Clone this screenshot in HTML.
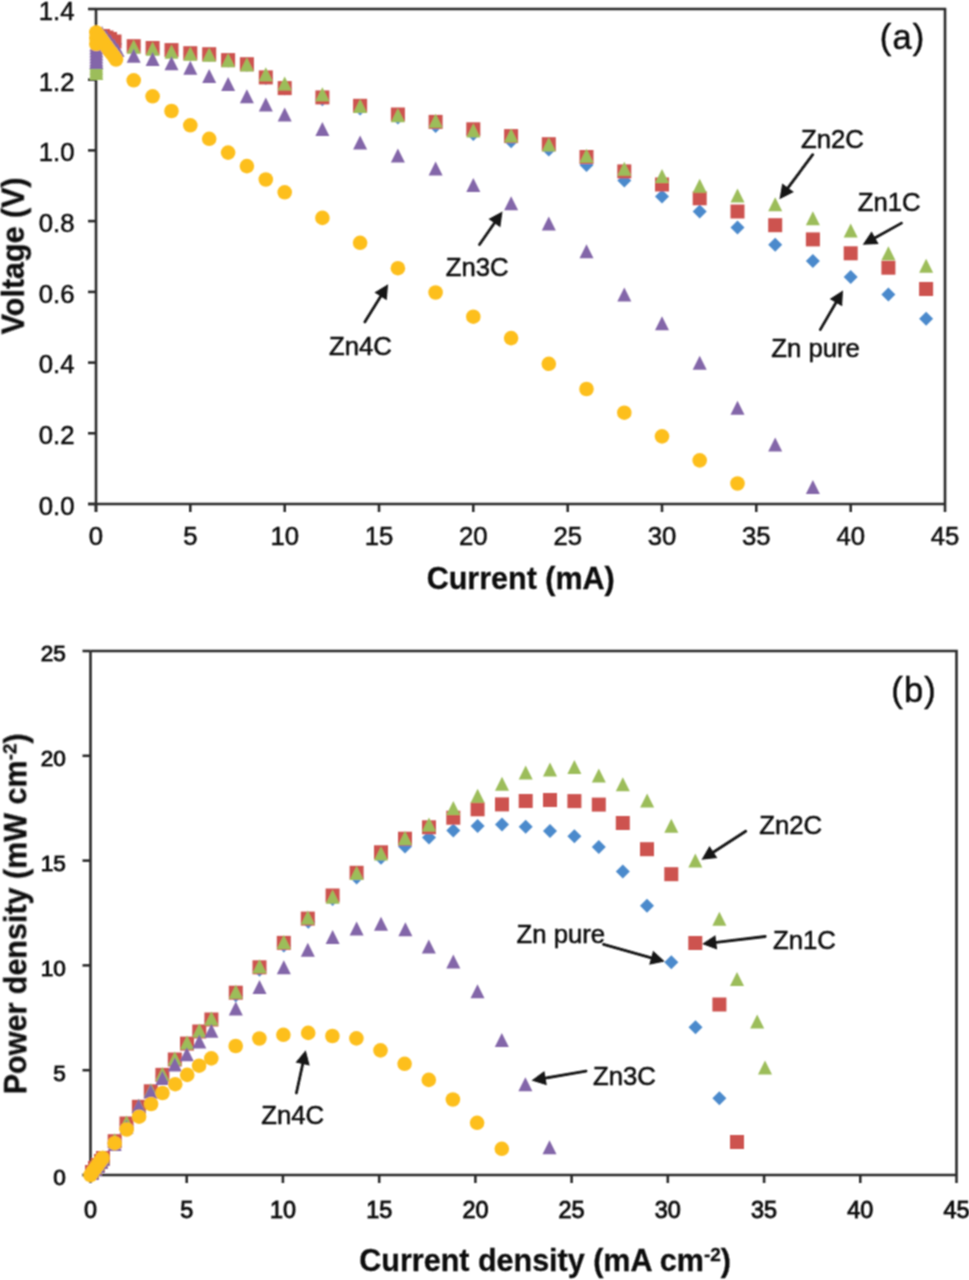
<!DOCTYPE html>
<html><head><meta charset="utf-8"><title>Voltage and power density curves</title>
<style>
html,body{margin:0;padding:0;background:#fff;}
body{width:969px;height:1280px;overflow:hidden;font-family:"Liberation Sans",sans-serif;}
svg{display:block;}
</style></head>
<body>
<svg width="969" height="1280" viewBox="0 0 969 1280">
<defs><filter id="bl" x="0" y="0" width="969" height="1280" filterUnits="userSpaceOnUse"><feConvolveMatrix order="3" kernelMatrix="0.0625 0.125 0.0625 0.125 0.25 0.125 0.0625 0.125 0.0625" divisor="1" edgeMode="none"/></filter></defs>
<rect width="969" height="1280" fill="#fff"/>
<g filter="url(#bl)">
<g stroke="#2b2b2b" stroke-width="2.6" fill="none">
<path d="M96 9H945V504"/>
<path d="M96 9V512M88 504H945"/>
<path d="M88 504.0H96"/>
<path d="M88 433.3H96"/>
<path d="M88 362.6H96"/>
<path d="M88 291.9H96"/>
<path d="M88 221.1H96"/>
<path d="M88 150.4H96"/>
<path d="M88 79.7H96"/>
<path d="M88 9.0H96"/>
<path d="M96.0 504V512"/>
<path d="M190.3 504V512"/>
<path d="M284.7 504V512"/>
<path d="M379.0 504V512"/>
<path d="M473.3 504V512"/>
<path d="M567.7 504V512"/>
<path d="M662.0 504V512"/>
<path d="M756.3 504V512"/>
<path d="M850.7 504V512"/>
<path d="M945.0 504V512"/>
</g>
<g font-family="Liberation Sans" font-size="25.7" fill="#111111" stroke="#111111" stroke-width="0.55" text-anchor="end">
<text x="74.5" y="514.8">0.0</text>
<text x="74.5" y="444.1">0.2</text>
<text x="74.5" y="373.4">0.4</text>
<text x="74.5" y="302.7">0.6</text>
<text x="74.5" y="231.9">0.8</text>
<text x="74.5" y="161.2">1.0</text>
<text x="74.5" y="90.5">1.2</text>
<text x="74.5" y="19.8">1.4</text>
</g>
<g font-family="Liberation Sans" font-size="25.7" fill="#111111" stroke="#111111" stroke-width="0.55" text-anchor="middle">
<text x="96.0" y="545">0</text>
<text x="190.3" y="545">5</text>
<text x="284.7" y="545">10</text>
<text x="379.0" y="545">15</text>
<text x="473.3" y="545">20</text>
<text x="567.7" y="545">25</text>
<text x="662.0" y="545">30</text>
<text x="756.3" y="545">35</text>
<text x="850.7" y="545">40</text>
<text x="945.0" y="545">45</text>
</g>
<text x="520.75" y="589.3" font-family="Liberation Sans" font-weight="bold" font-size="30.5" fill="#111111" stroke="#111111" stroke-width="0.3" text-anchor="middle">Current (mA)</text>
<text transform="translate(23.8 255.8) rotate(-90)" font-family="Liberation Sans" font-weight="bold" font-size="30.5" fill="#111111" stroke="#111111" stroke-width="0.3" text-anchor="middle">Voltage (V)</text>
<text x="879.8" y="48.6" letter-spacing="1.1" font-family="Liberation Sans" font-size="34.5" fill="#111111" stroke="#111111" stroke-width="0.5">(a)</text>
<path d="M97.0 33.0L104.0 40.0L97.0 47.0L90.0 40.0Z" fill="#4b8acc"/><path d="M100.0 31.0L107.0 38.0L100.0 45.0L93.0 38.0Z" fill="#4b8acc"/><path d="M104.0 33.0L111.0 40.0L104.0 47.0L97.0 40.0Z" fill="#4b8acc"/><path d="M108.0 34.0L115.0 41.0L108.0 48.0L101.0 41.0Z" fill="#4b8acc"/><path d="M112.0 36.0L119.0 43.0L112.0 50.0L105.0 43.0Z" fill="#4b8acc"/><path d="M115.0 37.0L122.0 44.0L115.0 51.0L108.0 44.0Z" fill="#4b8acc"/><path d="M133.7 39.7L140.7 46.7L133.7 53.7L126.7 46.7Z" fill="#4b8acc"/><path d="M152.6 41.5L159.6 48.5L152.6 55.5L145.6 48.5Z" fill="#4b8acc"/><path d="M171.5 43.6L178.5 50.6L171.5 57.6L164.5 50.6Z" fill="#4b8acc"/><path d="M190.3 46.7L197.3 53.7L190.3 60.7L183.3 53.7Z" fill="#4b8acc"/><path d="M209.2 47.7L216.2 54.7L209.2 61.7L202.2 54.7Z" fill="#4b8acc"/><path d="M228.1 53.6L235.1 60.6L228.1 67.6L221.1 60.6Z" fill="#4b8acc"/><path d="M246.9 57.7L253.9 64.7L246.9 71.7L239.9 64.7Z" fill="#4b8acc"/><path d="M265.8 70.9L272.8 77.9L265.8 84.9L258.8 77.9Z" fill="#4b8acc"/><path d="M284.7 81.6L291.7 88.6L284.7 95.6L277.7 88.6Z" fill="#4b8acc"/><path d="M322.4 92.2L329.4 99.2L322.4 106.2L315.4 99.2Z" fill="#4b8acc"/><path d="M360.1 101.5L367.1 108.5L360.1 115.5L353.1 108.5Z" fill="#4b8acc"/><path d="M397.9 110.4L404.9 117.4L397.9 124.4L390.9 117.4Z" fill="#4b8acc"/><path d="M435.6 119.0L442.6 126.0L435.6 133.0L428.6 126.0Z" fill="#4b8acc"/><path d="M473.3 127.0L480.3 134.0L473.3 141.0L466.3 134.0Z" fill="#4b8acc"/><path d="M511.1 134.3L518.1 141.3L511.1 148.3L504.1 141.3Z" fill="#4b8acc"/><path d="M548.8 142.5L555.8 149.5L548.8 156.5L541.8 149.5Z" fill="#4b8acc"/><path d="M586.5 158.0L593.5 165.0L586.5 172.0L579.5 165.0Z" fill="#4b8acc"/><path d="M624.3 173.6L631.3 180.6L624.3 187.6L617.3 180.6Z" fill="#4b8acc"/><path d="M662.0 189.5L669.0 196.5L662.0 203.5L655.0 196.5Z" fill="#4b8acc"/><path d="M699.7 204.5L706.7 211.5L699.7 218.5L692.7 211.5Z" fill="#4b8acc"/><path d="M737.5 220.4L744.5 227.4L737.5 234.4L730.5 227.4Z" fill="#4b8acc"/><path d="M775.2 237.8L782.2 244.8L775.2 251.8L768.2 244.8Z" fill="#4b8acc"/><path d="M812.9 254.1L819.9 261.1L812.9 268.1L805.9 261.1Z" fill="#4b8acc"/><path d="M850.7 270.0L857.7 277.0L850.7 284.0L843.7 277.0Z" fill="#4b8acc"/><path d="M888.4 287.5L895.4 294.5L888.4 301.5L881.4 294.5Z" fill="#4b8acc"/><path d="M926.1 311.7L933.1 318.7L926.1 325.7L919.1 318.7Z" fill="#4b8acc"/><rect x="90.0" y="29.0" width="14" height="14" fill="#cd5350"/><rect x="96.0" y="29.0" width="14" height="14" fill="#cd5350"/><rect x="99.5" y="30.5" width="14" height="14" fill="#cd5350"/><rect x="103.0" y="32.0" width="14" height="14" fill="#cd5350"/><rect x="107.5" y="34.5" width="14" height="14" fill="#cd5350"/><rect x="126.7" y="39.2" width="14" height="14" fill="#cd5350"/><rect x="145.6" y="41.0" width="14" height="14" fill="#cd5350"/><rect x="164.5" y="43.1" width="14" height="14" fill="#cd5350"/><rect x="183.3" y="46.2" width="14" height="14" fill="#cd5350"/><rect x="202.2" y="47.2" width="14" height="14" fill="#cd5350"/><rect x="221.1" y="53.1" width="14" height="14" fill="#cd5350"/><rect x="239.9" y="57.2" width="14" height="14" fill="#cd5350"/><rect x="258.8" y="70.4" width="14" height="14" fill="#cd5350"/><rect x="277.7" y="81.1" width="14" height="14" fill="#cd5350"/><rect x="315.4" y="90.4" width="14" height="14" fill="#cd5350"/><rect x="353.1" y="98.8" width="14" height="14" fill="#cd5350"/><rect x="390.9" y="107.5" width="14" height="14" fill="#cd5350"/><rect x="428.6" y="114.9" width="14" height="14" fill="#cd5350"/><rect x="466.3" y="122.3" width="14" height="14" fill="#cd5350"/><rect x="504.1" y="129.1" width="14" height="14" fill="#cd5350"/><rect x="541.8" y="137.2" width="14" height="14" fill="#cd5350"/><rect x="579.5" y="150.0" width="14" height="14" fill="#cd5350"/><rect x="617.3" y="164.4" width="14" height="14" fill="#cd5350"/><rect x="655.0" y="177.5" width="14" height="14" fill="#cd5350"/><rect x="692.7" y="191.3" width="14" height="14" fill="#cd5350"/><rect x="730.5" y="204.5" width="14" height="14" fill="#cd5350"/><rect x="768.2" y="218.2" width="14" height="14" fill="#cd5350"/><rect x="805.9" y="232.4" width="14" height="14" fill="#cd5350"/><rect x="843.7" y="246.3" width="14" height="14" fill="#cd5350"/><rect x="881.4" y="260.7" width="14" height="14" fill="#cd5350"/><rect x="919.1" y="282.0" width="14" height="14" fill="#cd5350"/><path d="M96.3 56.0L103.3 70.0L89.3 70.0Z" fill="#9cbd5a"/><path d="M96.3 58.5L103.3 72.5L89.3 72.5Z" fill="#9cbd5a"/><path d="M96.3 61.0L103.3 75.0L89.3 75.0Z" fill="#9cbd5a"/><path d="M96.3 63.5L103.3 77.5L89.3 77.5Z" fill="#9cbd5a"/><path d="M96.3 66.0L103.3 80.0L89.3 80.0Z" fill="#9cbd5a"/><path d="M133.7 39.7L140.7 53.7L126.7 53.7Z" fill="#9cbd5a"/><path d="M152.6 41.7L159.6 55.7L145.6 55.7Z" fill="#9cbd5a"/><path d="M171.5 44.7L178.5 58.7L164.5 58.7Z" fill="#9cbd5a"/><path d="M190.3 46.8L197.3 60.8L183.3 60.8Z" fill="#9cbd5a"/><path d="M209.2 47.7L216.2 61.7L202.2 61.7Z" fill="#9cbd5a"/><path d="M228.1 53.3L235.1 67.3L221.1 67.3Z" fill="#9cbd5a"/><path d="M246.9 57.4L253.9 71.4L239.9 71.4Z" fill="#9cbd5a"/><path d="M265.8 67.2L272.8 81.2L258.8 81.2Z" fill="#9cbd5a"/><path d="M284.7 76.5L291.7 90.5L277.7 90.5Z" fill="#9cbd5a"/><path d="M322.4 87.3L329.4 101.3L315.4 101.3Z" fill="#9cbd5a"/><path d="M360.1 99.0L367.1 113.0L353.1 113.0Z" fill="#9cbd5a"/><path d="M397.9 108.3L404.9 122.3L390.9 122.3Z" fill="#9cbd5a"/><path d="M435.6 113.7L442.6 127.7L428.6 127.7Z" fill="#9cbd5a"/><path d="M473.3 123.6L480.3 137.6L466.3 137.6Z" fill="#9cbd5a"/><path d="M511.1 128.5L518.1 142.5L504.1 142.5Z" fill="#9cbd5a"/><path d="M548.8 137.6L555.8 151.6L541.8 151.6Z" fill="#9cbd5a"/><path d="M586.5 148.7L593.5 162.7L579.5 162.7Z" fill="#9cbd5a"/><path d="M624.3 161.7L631.3 175.7L617.3 175.7Z" fill="#9cbd5a"/><path d="M662.0 169.0L669.0 183.0L655.0 183.0Z" fill="#9cbd5a"/><path d="M699.7 178.7L706.7 192.7L692.7 192.7Z" fill="#9cbd5a"/><path d="M737.5 188.4L744.5 202.4L730.5 202.4Z" fill="#9cbd5a"/><path d="M775.2 197.2L782.2 211.2L768.2 211.2Z" fill="#9cbd5a"/><path d="M812.9 211.2L819.9 225.2L805.9 225.2Z" fill="#9cbd5a"/><path d="M850.7 223.6L857.7 237.6L843.7 237.6Z" fill="#9cbd5a"/><path d="M888.4 246.3L895.4 260.3L881.4 260.3Z" fill="#9cbd5a"/><path d="M926.1 258.7L933.1 272.7L919.1 272.7Z" fill="#9cbd5a"/><path d="M96.3 37.5L103.3 51.5L89.3 51.5Z" fill="#8366a9"/><path d="M96.3 40.5L103.3 54.5L89.3 54.5Z" fill="#8366a9"/><path d="M96.3 43.5L103.3 57.5L89.3 57.5Z" fill="#8366a9"/><path d="M96.3 46.5L103.3 60.5L89.3 60.5Z" fill="#8366a9"/><path d="M96.3 49.5L103.3 63.5L89.3 63.5Z" fill="#8366a9"/><path d="M96.3 52.5L103.3 66.5L89.3 66.5Z" fill="#8366a9"/><path d="M96.3 55.0L103.3 69.0L89.3 69.0Z" fill="#8366a9"/><path d="M102.0 26.0L109.0 40.0L95.0 40.0Z" fill="#8366a9"/><path d="M106.0 29.5L113.0 43.5L99.0 43.5Z" fill="#8366a9"/><path d="M110.0 34.0L117.0 48.0L103.0 48.0Z" fill="#8366a9"/><path d="M114.0 38.5L121.0 52.5L107.0 52.5Z" fill="#8366a9"/><path d="M117.5 43.0L124.5 57.0L110.5 57.0Z" fill="#8366a9"/><path d="M133.7 48.8L140.7 62.8L126.7 62.8Z" fill="#8366a9"/><path d="M152.6 52.0L159.6 66.0L145.6 66.0Z" fill="#8366a9"/><path d="M171.5 56.3L178.5 70.3L164.5 70.3Z" fill="#8366a9"/><path d="M190.3 60.7L197.3 74.7L183.3 74.7Z" fill="#8366a9"/><path d="M209.2 68.9L216.2 82.9L202.2 82.9Z" fill="#8366a9"/><path d="M228.1 76.9L235.1 90.9L221.1 90.9Z" fill="#8366a9"/><path d="M246.9 89.3L253.9 103.3L239.9 103.3Z" fill="#8366a9"/><path d="M265.8 97.5L272.8 111.5L258.8 111.5Z" fill="#8366a9"/><path d="M284.7 107.5L291.7 121.5L277.7 121.5Z" fill="#8366a9"/><path d="M322.4 122.0L329.4 136.0L315.4 136.0Z" fill="#8366a9"/><path d="M360.1 135.6L367.1 149.6L353.1 149.6Z" fill="#8366a9"/><path d="M397.9 148.6L404.9 162.6L390.9 162.6Z" fill="#8366a9"/><path d="M435.6 161.4L442.6 175.4L428.6 175.4Z" fill="#8366a9"/><path d="M473.3 178.0L480.3 192.0L466.3 192.0Z" fill="#8366a9"/><path d="M511.1 196.2L518.1 210.2L504.1 210.2Z" fill="#8366a9"/><path d="M548.8 216.4L555.8 230.4L541.8 230.4Z" fill="#8366a9"/><path d="M586.5 244.3L593.5 258.3L579.5 258.3Z" fill="#8366a9"/><path d="M624.3 287.5L631.3 301.5L617.3 301.5Z" fill="#8366a9"/><path d="M662.0 316.3L669.0 330.3L655.0 330.3Z" fill="#8366a9"/><path d="M699.7 355.7L706.7 369.7L692.7 369.7Z" fill="#8366a9"/><path d="M737.5 400.8L744.5 414.8L730.5 414.8Z" fill="#8366a9"/><path d="M775.2 437.5L782.2 451.5L768.2 451.5Z" fill="#8366a9"/><path d="M812.9 480.0L819.9 494.0L805.9 494.0Z" fill="#8366a9"/><circle cx="96.3" cy="32.5" r="7.30" fill="#fdbf1f"/><circle cx="96.3" cy="38.0" r="7.30" fill="#fdbf1f"/><circle cx="96.3" cy="44.0" r="7.30" fill="#fdbf1f"/><circle cx="99.0" cy="36.0" r="7.30" fill="#fdbf1f"/><circle cx="101.5" cy="39.5" r="7.30" fill="#fdbf1f"/><circle cx="104.0" cy="43.0" r="7.30" fill="#fdbf1f"/><circle cx="106.5" cy="46.5" r="7.30" fill="#fdbf1f"/><circle cx="109.0" cy="50.0" r="7.30" fill="#fdbf1f"/><circle cx="111.5" cy="53.0" r="7.30" fill="#fdbf1f"/><circle cx="114.0" cy="56.5" r="7.30" fill="#fdbf1f"/><circle cx="116.0" cy="59.5" r="7.30" fill="#fdbf1f"/><circle cx="133.7" cy="80.3" r="7.30" fill="#fdbf1f"/><circle cx="152.6" cy="96.3" r="7.30" fill="#fdbf1f"/><circle cx="171.5" cy="111.0" r="7.30" fill="#fdbf1f"/><circle cx="190.3" cy="125.3" r="7.30" fill="#fdbf1f"/><circle cx="209.2" cy="138.8" r="7.30" fill="#fdbf1f"/><circle cx="228.1" cy="152.6" r="7.30" fill="#fdbf1f"/><circle cx="246.9" cy="166.1" r="7.30" fill="#fdbf1f"/><circle cx="265.8" cy="179.5" r="7.30" fill="#fdbf1f"/><circle cx="284.7" cy="192.3" r="7.30" fill="#fdbf1f"/><circle cx="322.4" cy="217.9" r="7.30" fill="#fdbf1f"/><circle cx="360.1" cy="242.8" r="7.30" fill="#fdbf1f"/><circle cx="397.9" cy="268.2" r="7.30" fill="#fdbf1f"/><circle cx="435.6" cy="292.5" r="7.30" fill="#fdbf1f"/><circle cx="473.3" cy="316.7" r="7.30" fill="#fdbf1f"/><circle cx="511.1" cy="338.1" r="7.30" fill="#fdbf1f"/><circle cx="548.8" cy="363.8" r="7.30" fill="#fdbf1f"/><circle cx="586.5" cy="389.0" r="7.30" fill="#fdbf1f"/><circle cx="624.3" cy="412.7" r="7.30" fill="#fdbf1f"/><circle cx="662.0" cy="436.4" r="7.30" fill="#fdbf1f"/><circle cx="699.7" cy="460.4" r="7.30" fill="#fdbf1f"/><circle cx="737.5" cy="483.5" r="7.30" fill="#fdbf1f"/>
<g font-family="Liberation Sans" font-size="25.7" fill="#111111" stroke="#111111" stroke-width="0.55">
<text x="801.1" y="147.5">Zn2C</text>
<text x="857.8" y="211.4">Zn1C</text>
<text x="771.3" y="357.1">Zn pure</text>
<text x="445.7" y="275.7">Zn3C</text>
<text x="329.0" y="354.6">Zn4C</text>
</g>
<line x1="812.7" y1="154.7" x2="786.8" y2="189.4" stroke="#161616" stroke-width="2.8" stroke-linecap="round"/><path d="M779.5 199.2L782.2 183.5L793.8 192.1Z" fill="#161616"/>
<line x1="901.5" y1="223.1" x2="873.4" y2="238.8" stroke="#161616" stroke-width="2.8" stroke-linecap="round"/><path d="M862.7 244.7L871.6 231.5L878.6 244.1Z" fill="#161616"/>
<line x1="820.3" y1="329.6" x2="836.9" y2="301.0" stroke="#161616" stroke-width="2.8" stroke-linecap="round"/><path d="M843.0 290.4L842.1 306.3L829.7 299.1Z" fill="#161616"/>
<line x1="479.5" y1="244.5" x2="495.5" y2="221.5" stroke="#161616" stroke-width="2.8" stroke-linecap="round"/><path d="M502.5 211.5L500.3 227.3L488.5 219.0Z" fill="#161616"/>
<line x1="364.8" y1="321.9" x2="381.7" y2="294.7" stroke="#161616" stroke-width="2.8" stroke-linecap="round"/><path d="M388.1 284.3L386.7 300.2L374.5 292.6Z" fill="#161616"/>
<g stroke="#2b2b2b" stroke-width="2.6" fill="none">
<path d="M90.5 651H956.5V1175"/>
<path d="M90.5 651V1175M82.5 1175H956.5"/>
<path d="M82.5 1175.0H90.5"/>
<path d="M82.5 1070.2H90.5"/>
<path d="M82.5 965.4H90.5"/>
<path d="M82.5 860.6H90.5"/>
<path d="M82.5 755.8H90.5"/>
<path d="M82.5 651.0H90.5"/>
<path d="M90.5 1175V1183"/>
<path d="M186.7 1175V1183"/>
<path d="M282.9 1175V1183"/>
<path d="M379.2 1175V1183"/>
<path d="M475.4 1175V1183"/>
<path d="M571.6 1175V1183"/>
<path d="M667.8 1175V1183"/>
<path d="M764.1 1175V1183"/>
<path d="M860.3 1175V1183"/>
<path d="M956.5 1175V1183"/>
</g>
<g font-family="Liberation Sans" font-size="22.6" fill="#111111" stroke="#111111" stroke-width="0.9" text-anchor="end">
<text x="65.8" y="1185.3">0</text>
<text x="65.8" y="1080.5">5</text>
<text x="65.8" y="975.7">10</text>
<text x="65.8" y="870.9">15</text>
<text x="65.8" y="766.1">20</text>
<text x="65.8" y="661.3">25</text>
</g>
<g font-family="Liberation Sans" font-size="23.4" fill="#111111" stroke="#111111" stroke-width="0.9" text-anchor="middle">
<text x="90.5" y="1217.6">0</text>
<text x="186.7" y="1217.6">5</text>
<text x="282.9" y="1217.6">10</text>
<text x="379.2" y="1217.6">15</text>
<text x="475.4" y="1217.6">20</text>
<text x="571.6" y="1217.6">25</text>
<text x="667.8" y="1217.6">30</text>
<text x="764.1" y="1217.6">35</text>
<text x="860.3" y="1217.6">40</text>
<text x="956.5" y="1217.6">45</text>
</g>
<text x="359.3" y="1271" font-family="Liberation Sans" font-weight="bold" font-size="30.5" fill="#111111" stroke="#111111" stroke-width="0.3">Current density (mA cm<tspan font-size="19" dy="-10">-2</tspan><tspan dy="10">)</tspan></text>
<text transform="translate(26.2 1094.3) rotate(-90)" font-family="Liberation Sans" font-weight="bold" font-size="30.5" fill="#111111" stroke="#111111" stroke-width="0.3">Power density (mW cm<tspan font-size="19" dy="-10">-2</tspan><tspan dy="10">)</tspan></text>
<text x="891.3" y="702.4" letter-spacing="1.1" font-family="Liberation Sans" font-size="34.5" fill="#111111" stroke="#111111" stroke-width="0.5">(b)</text>
<path d="M92.0 1166.0L99.0 1173.0L92.0 1180.0L85.0 1173.0Z" fill="#4b8acc"/><path d="M95.0 1162.0L102.0 1169.0L95.0 1176.0L88.0 1169.0Z" fill="#4b8acc"/><path d="M98.0 1159.0L105.0 1166.0L98.0 1173.0L91.0 1166.0Z" fill="#4b8acc"/><path d="M101.0 1155.0L108.0 1162.0L101.0 1169.0L94.0 1162.0Z" fill="#4b8acc"/><path d="M103.0 1152.0L110.0 1159.0L103.0 1166.0L96.0 1159.0Z" fill="#4b8acc"/><path d="M114.7 1135.2L121.7 1142.2L114.7 1149.2L107.7 1142.2Z" fill="#4b8acc"/><path d="M126.5 1117.5L133.5 1124.5L126.5 1131.5L119.5 1124.5Z" fill="#4b8acc"/><path d="M138.9 1100.8L145.9 1107.8L138.9 1114.8L131.9 1107.8Z" fill="#4b8acc"/><path d="M150.8 1085.3L157.8 1092.3L150.8 1099.3L143.8 1092.3Z" fill="#4b8acc"/><path d="M162.4 1068.9L169.4 1075.9L162.4 1082.9L155.4 1075.9Z" fill="#4b8acc"/><path d="M174.8 1053.5L181.8 1060.5L174.8 1067.5L167.8 1060.5Z" fill="#4b8acc"/><path d="M187.0 1037.6L194.0 1044.6L187.0 1051.6L180.0 1044.6Z" fill="#4b8acc"/><path d="M199.3 1025.5L206.3 1032.5L199.3 1039.5L192.3 1032.5Z" fill="#4b8acc"/><path d="M211.4 1013.5L218.4 1020.5L211.4 1027.5L204.4 1020.5Z" fill="#4b8acc"/><path d="M235.8 988.2L242.8 995.2L235.8 1002.2L228.8 995.2Z" fill="#4b8acc"/><path d="M259.5 962.8L266.5 969.8L259.5 976.8L252.5 969.8Z" fill="#4b8acc"/><path d="M283.8 938.4L290.8 945.4L283.8 952.4L276.8 945.4Z" fill="#4b8acc"/><path d="M308.3 914.8L315.3 921.8L308.3 928.8L301.3 921.8Z" fill="#4b8acc"/><path d="M332.6 892.0L339.6 899.0L332.6 906.0L325.6 899.0Z" fill="#4b8acc"/><path d="M356.6 870.4L363.6 877.4L356.6 884.4L349.6 877.4Z" fill="#4b8acc"/><path d="M381.0 850.7L388.0 857.7L381.0 864.7L374.0 857.7Z" fill="#4b8acc"/><path d="M405.0 839.4L412.0 846.4L405.0 853.4L398.0 846.4Z" fill="#4b8acc"/><path d="M429.0 830.5L436.0 837.5L429.0 844.5L422.0 837.5Z" fill="#4b8acc"/><path d="M453.3 823.6L460.3 830.6L453.3 837.6L446.3 830.6Z" fill="#4b8acc"/><path d="M477.6 818.9L484.6 825.9L477.6 832.9L470.6 825.9Z" fill="#4b8acc"/><path d="M502.0 817.4L509.0 824.4L502.0 831.4L495.0 824.4Z" fill="#4b8acc"/><path d="M525.7 819.7L532.7 826.7L525.7 833.7L518.7 826.7Z" fill="#4b8acc"/><path d="M550.0 824.0L557.0 831.0L550.0 838.0L543.0 831.0Z" fill="#4b8acc"/><path d="M574.4 829.3L581.4 836.3L574.4 843.3L567.4 836.3Z" fill="#4b8acc"/><path d="M598.8 840.1L605.8 847.1L598.8 854.1L591.8 847.1Z" fill="#4b8acc"/><path d="M622.8 864.6L629.8 871.6L622.8 878.6L615.8 871.6Z" fill="#4b8acc"/><path d="M647.0 898.8L654.0 905.8L647.0 912.8L640.0 905.8Z" fill="#4b8acc"/><path d="M671.3 955.2L678.3 962.2L671.3 969.2L664.3 962.2Z" fill="#4b8acc"/><path d="M695.5 1020.2L702.5 1027.2L695.5 1034.2L688.5 1027.2Z" fill="#4b8acc"/><path d="M719.4 1091.3L726.4 1098.3L719.4 1105.3L712.4 1098.3Z" fill="#4b8acc"/><rect x="85.0" y="1165.0" width="14" height="14" fill="#cd5350"/><rect x="88.0" y="1161.0" width="14" height="14" fill="#cd5350"/><rect x="91.0" y="1158.0" width="14" height="14" fill="#cd5350"/><rect x="94.0" y="1154.0" width="14" height="14" fill="#cd5350"/><rect x="96.0" y="1151.0" width="14" height="14" fill="#cd5350"/><rect x="107.7" y="1134.2" width="14" height="14" fill="#cd5350"/><rect x="119.5" y="1116.5" width="14" height="14" fill="#cd5350"/><rect x="131.9" y="1099.8" width="14" height="14" fill="#cd5350"/><rect x="143.8" y="1084.3" width="14" height="14" fill="#cd5350"/><rect x="155.4" y="1067.9" width="14" height="14" fill="#cd5350"/><rect x="167.8" y="1052.5" width="14" height="14" fill="#cd5350"/><rect x="180.0" y="1036.6" width="14" height="14" fill="#cd5350"/><rect x="192.3" y="1024.5" width="14" height="14" fill="#cd5350"/><rect x="204.4" y="1012.5" width="14" height="14" fill="#cd5350"/><rect x="228.8" y="985.7" width="14" height="14" fill="#cd5350"/><rect x="252.5" y="960.3" width="14" height="14" fill="#cd5350"/><rect x="276.8" y="935.9" width="14" height="14" fill="#cd5350"/><rect x="300.8" y="911.6" width="14" height="14" fill="#cd5350"/><rect x="325.6" y="888.5" width="14" height="14" fill="#cd5350"/><rect x="349.6" y="865.8" width="14" height="14" fill="#cd5350"/><rect x="374.0" y="845.3" width="14" height="14" fill="#cd5350"/><rect x="398.0" y="831.7" width="14" height="14" fill="#cd5350"/><rect x="422.0" y="820.3" width="14" height="14" fill="#cd5350"/><rect x="446.3" y="810.7" width="14" height="14" fill="#cd5350"/><rect x="470.6" y="802.3" width="14" height="14" fill="#cd5350"/><rect x="495.0" y="797.4" width="14" height="14" fill="#cd5350"/><rect x="518.7" y="794.0" width="14" height="14" fill="#cd5350"/><rect x="543.0" y="793.0" width="14" height="14" fill="#cd5350"/><rect x="567.4" y="794.1" width="14" height="14" fill="#cd5350"/><rect x="591.8" y="797.6" width="14" height="14" fill="#cd5350"/><rect x="615.8" y="816.0" width="14" height="14" fill="#cd5350"/><rect x="640.0" y="842.2" width="14" height="14" fill="#cd5350"/><rect x="664.3" y="867.2" width="14" height="14" fill="#cd5350"/><rect x="688.3" y="936.0" width="14" height="14" fill="#cd5350"/><rect x="712.4" y="997.5" width="14" height="14" fill="#cd5350"/><rect x="730.0" y="1135.0" width="14" height="14" fill="#cd5350"/><path d="M92.0 1164.0L99.0 1178.0L85.0 1178.0Z" fill="#9cbd5a"/><path d="M95.0 1160.0L102.0 1174.0L88.0 1174.0Z" fill="#9cbd5a"/><path d="M98.0 1157.0L105.0 1171.0L91.0 1171.0Z" fill="#9cbd5a"/><path d="M101.0 1153.0L108.0 1167.0L94.0 1167.0Z" fill="#9cbd5a"/><path d="M103.0 1150.0L110.0 1164.0L96.0 1164.0Z" fill="#9cbd5a"/><path d="M114.7 1133.2L121.7 1147.2L107.7 1147.2Z" fill="#9cbd5a"/><path d="M126.5 1115.5L133.5 1129.5L119.5 1129.5Z" fill="#9cbd5a"/><path d="M138.9 1098.8L145.9 1112.8L131.9 1112.8Z" fill="#9cbd5a"/><path d="M150.8 1083.3L157.8 1097.3L143.8 1097.3Z" fill="#9cbd5a"/><path d="M162.4 1066.9L169.4 1080.9L155.4 1080.9Z" fill="#9cbd5a"/><path d="M174.8 1051.5L181.8 1065.5L167.8 1065.5Z" fill="#9cbd5a"/><path d="M187.0 1035.6L194.0 1049.6L180.0 1049.6Z" fill="#9cbd5a"/><path d="M199.3 1023.5L206.3 1037.5L192.3 1037.5Z" fill="#9cbd5a"/><path d="M211.4 1011.5L218.4 1025.5L204.4 1025.5Z" fill="#9cbd5a"/><path d="M235.8 984.7L242.8 998.7L228.8 998.7Z" fill="#9cbd5a"/><path d="M259.5 959.3L266.5 973.3L252.5 973.3Z" fill="#9cbd5a"/><path d="M283.8 934.9L290.8 948.9L276.8 948.9Z" fill="#9cbd5a"/><path d="M307.8 910.6L314.8 924.6L300.8 924.6Z" fill="#9cbd5a"/><path d="M332.6 889.7L339.6 903.7L325.6 903.7Z" fill="#9cbd5a"/><path d="M356.6 866.0L363.6 880.0L349.6 880.0Z" fill="#9cbd5a"/><path d="M381.0 846.4L388.0 860.4L374.0 860.4Z" fill="#9cbd5a"/><path d="M405.0 830.9L412.0 844.9L398.0 844.9Z" fill="#9cbd5a"/><path d="M429.0 817.4L436.0 831.4L422.0 831.4Z" fill="#9cbd5a"/><path d="M453.3 801.1L460.3 815.1L446.3 815.1Z" fill="#9cbd5a"/><path d="M477.6 788.7L484.6 802.7L470.6 802.7Z" fill="#9cbd5a"/><path d="M502.0 776.8L509.0 790.8L495.0 790.8Z" fill="#9cbd5a"/><path d="M525.7 765.5L532.7 779.5L518.7 779.5Z" fill="#9cbd5a"/><path d="M550.0 762.6L557.0 776.6L543.0 776.6Z" fill="#9cbd5a"/><path d="M574.4 759.9L581.4 773.9L567.4 773.9Z" fill="#9cbd5a"/><path d="M598.8 768.6L605.8 782.6L591.8 782.6Z" fill="#9cbd5a"/><path d="M622.8 777.3L629.8 791.3L615.8 791.3Z" fill="#9cbd5a"/><path d="M647.1 793.5L654.1 807.5L640.1 807.5Z" fill="#9cbd5a"/><path d="M671.3 818.8L678.3 832.8L664.3 832.8Z" fill="#9cbd5a"/><path d="M695.3 853.5L702.3 867.5L688.3 867.5Z" fill="#9cbd5a"/><path d="M719.4 911.8L726.4 925.8L712.4 925.8Z" fill="#9cbd5a"/><path d="M737.0 972.0L744.0 986.0L730.0 986.0Z" fill="#9cbd5a"/><path d="M757.2 1014.4L764.2 1028.4L750.2 1028.4Z" fill="#9cbd5a"/><path d="M765.0 1060.5L772.0 1074.5L758.0 1074.5Z" fill="#9cbd5a"/><path d="M92.0 1166.0L99.0 1180.0L85.0 1180.0Z" fill="#8366a9"/><path d="M95.0 1162.0L102.0 1176.0L88.0 1176.0Z" fill="#8366a9"/><path d="M98.0 1159.0L105.0 1173.0L91.0 1173.0Z" fill="#8366a9"/><path d="M101.0 1155.0L108.0 1169.0L94.0 1169.0Z" fill="#8366a9"/><path d="M103.0 1152.0L110.0 1166.0L96.0 1166.0Z" fill="#8366a9"/><path d="M114.7 1137.0L121.7 1151.0L107.7 1151.0Z" fill="#8366a9"/><path d="M126.5 1120.0L133.5 1134.0L119.5 1134.0Z" fill="#8366a9"/><path d="M138.7 1098.9L145.7 1112.9L131.7 1112.9Z" fill="#8366a9"/><path d="M150.6 1084.5L157.6 1098.5L143.6 1098.5Z" fill="#8366a9"/><path d="M162.4 1071.0L169.4 1085.0L155.4 1085.0Z" fill="#8366a9"/><path d="M174.8 1057.6L181.8 1071.6L167.8 1071.6Z" fill="#8366a9"/><path d="M186.8 1047.3L193.8 1061.3L179.8 1061.3Z" fill="#8366a9"/><path d="M199.3 1034.5L206.3 1048.5L192.3 1048.5Z" fill="#8366a9"/><path d="M211.4 1023.8L218.4 1037.8L204.4 1037.8Z" fill="#8366a9"/><path d="M235.8 1001.4L242.8 1015.4L228.8 1015.4Z" fill="#8366a9"/><path d="M259.5 980.0L266.5 994.0L252.5 994.0Z" fill="#8366a9"/><path d="M283.8 960.3L290.8 974.3L276.8 974.3Z" fill="#8366a9"/><path d="M307.8 942.8L314.8 956.8L300.8 956.8Z" fill="#8366a9"/><path d="M332.6 930.0L339.6 944.0L325.6 944.0Z" fill="#8366a9"/><path d="M356.6 921.5L363.6 935.5L349.6 935.5Z" fill="#8366a9"/><path d="M381.0 916.8L388.0 930.8L374.0 930.8Z" fill="#8366a9"/><path d="M405.4 922.3L412.4 936.3L398.4 936.3Z" fill="#8366a9"/><path d="M428.8 939.6L435.8 953.6L421.8 953.6Z" fill="#8366a9"/><path d="M453.3 954.5L460.3 968.5L446.3 968.5Z" fill="#8366a9"/><path d="M477.5 984.3L484.5 998.3L470.5 998.3Z" fill="#8366a9"/><path d="M501.8 1032.9L508.8 1046.9L494.8 1046.9Z" fill="#8366a9"/><path d="M525.4 1077.2L532.4 1091.2L518.4 1091.2Z" fill="#8366a9"/><path d="M549.5 1140.2L556.5 1154.2L542.5 1154.2Z" fill="#8366a9"/><circle cx="90.5" cy="1175.0" r="7.30" fill="#fdbf1f"/><circle cx="93.0" cy="1171.5" r="7.30" fill="#fdbf1f"/><circle cx="95.5" cy="1168.0" r="7.30" fill="#fdbf1f"/><circle cx="98.0" cy="1164.5" r="7.30" fill="#fdbf1f"/><circle cx="100.5" cy="1161.0" r="7.30" fill="#fdbf1f"/><circle cx="102.5" cy="1158.0" r="7.30" fill="#fdbf1f"/><circle cx="114.7" cy="1143.2" r="7.30" fill="#fdbf1f"/><circle cx="126.7" cy="1129.5" r="7.30" fill="#fdbf1f"/><circle cx="139.1" cy="1116.7" r="7.30" fill="#fdbf1f"/><circle cx="151.1" cy="1104.0" r="7.30" fill="#fdbf1f"/><circle cx="162.5" cy="1093.0" r="7.30" fill="#fdbf1f"/><circle cx="175.2" cy="1084.2" r="7.30" fill="#fdbf1f"/><circle cx="187.2" cy="1074.9" r="7.30" fill="#fdbf1f"/><circle cx="199.1" cy="1065.7" r="7.30" fill="#fdbf1f"/><circle cx="211.3" cy="1058.4" r="7.30" fill="#fdbf1f"/><circle cx="235.7" cy="1046.0" r="7.30" fill="#fdbf1f"/><circle cx="259.4" cy="1038.5" r="7.30" fill="#fdbf1f"/><circle cx="283.4" cy="1034.8" r="7.30" fill="#fdbf1f"/><circle cx="308.2" cy="1032.9" r="7.30" fill="#fdbf1f"/><circle cx="332.4" cy="1036.0" r="7.30" fill="#fdbf1f"/><circle cx="356.4" cy="1038.4" r="7.30" fill="#fdbf1f"/><circle cx="380.5" cy="1050.4" r="7.30" fill="#fdbf1f"/><circle cx="404.6" cy="1063.8" r="7.30" fill="#fdbf1f"/><circle cx="428.8" cy="1079.9" r="7.30" fill="#fdbf1f"/><circle cx="452.9" cy="1099.5" r="7.30" fill="#fdbf1f"/><circle cx="477.1" cy="1122.8" r="7.30" fill="#fdbf1f"/><circle cx="501.8" cy="1148.8" r="7.30" fill="#fdbf1f"/>
<g font-family="Liberation Sans" font-size="25.7" fill="#111111" stroke="#111111" stroke-width="0.55">
<text x="759.2" y="833.8">Zn2C</text>
<text x="773.1" y="949.0">Zn1C</text>
<text x="516.6" y="943.4">Zn pure</text>
<text x="593.0" y="1085.0">Zn3C</text>
<text x="261.3" y="1123.7">Zn4C</text>
</g>
<line x1="745.7" y1="831.2" x2="711.7" y2="853.2" stroke="#161616" stroke-width="2.8" stroke-linecap="round"/><path d="M701.5 859.8L709.5 846.0L717.3 858.1Z" fill="#161616"/>
<line x1="765.2" y1="936.5" x2="714.2" y2="942.6" stroke="#161616" stroke-width="2.8" stroke-linecap="round"/><path d="M702.1 944.0L715.4 935.2L717.1 949.5Z" fill="#161616"/>
<line x1="603.5" y1="944.4" x2="653.1" y2="958.3" stroke="#161616" stroke-width="2.8" stroke-linecap="round"/><path d="M664.8 961.6L649.2 964.7L653.1 950.8Z" fill="#161616"/>
<line x1="586.0" y1="1071.1" x2="543.6" y2="1078.4" stroke="#161616" stroke-width="2.8" stroke-linecap="round"/><path d="M531.6 1080.5L544.4 1071.0L546.8 1085.2Z" fill="#161616"/>
<line x1="296.4" y1="1093.0" x2="303.1" y2="1062.1" stroke="#161616" stroke-width="2.8" stroke-linecap="round"/><path d="M305.7 1050.2L309.7 1065.6L295.6 1062.5Z" fill="#161616"/>
</g>
</svg>
</body></html>
